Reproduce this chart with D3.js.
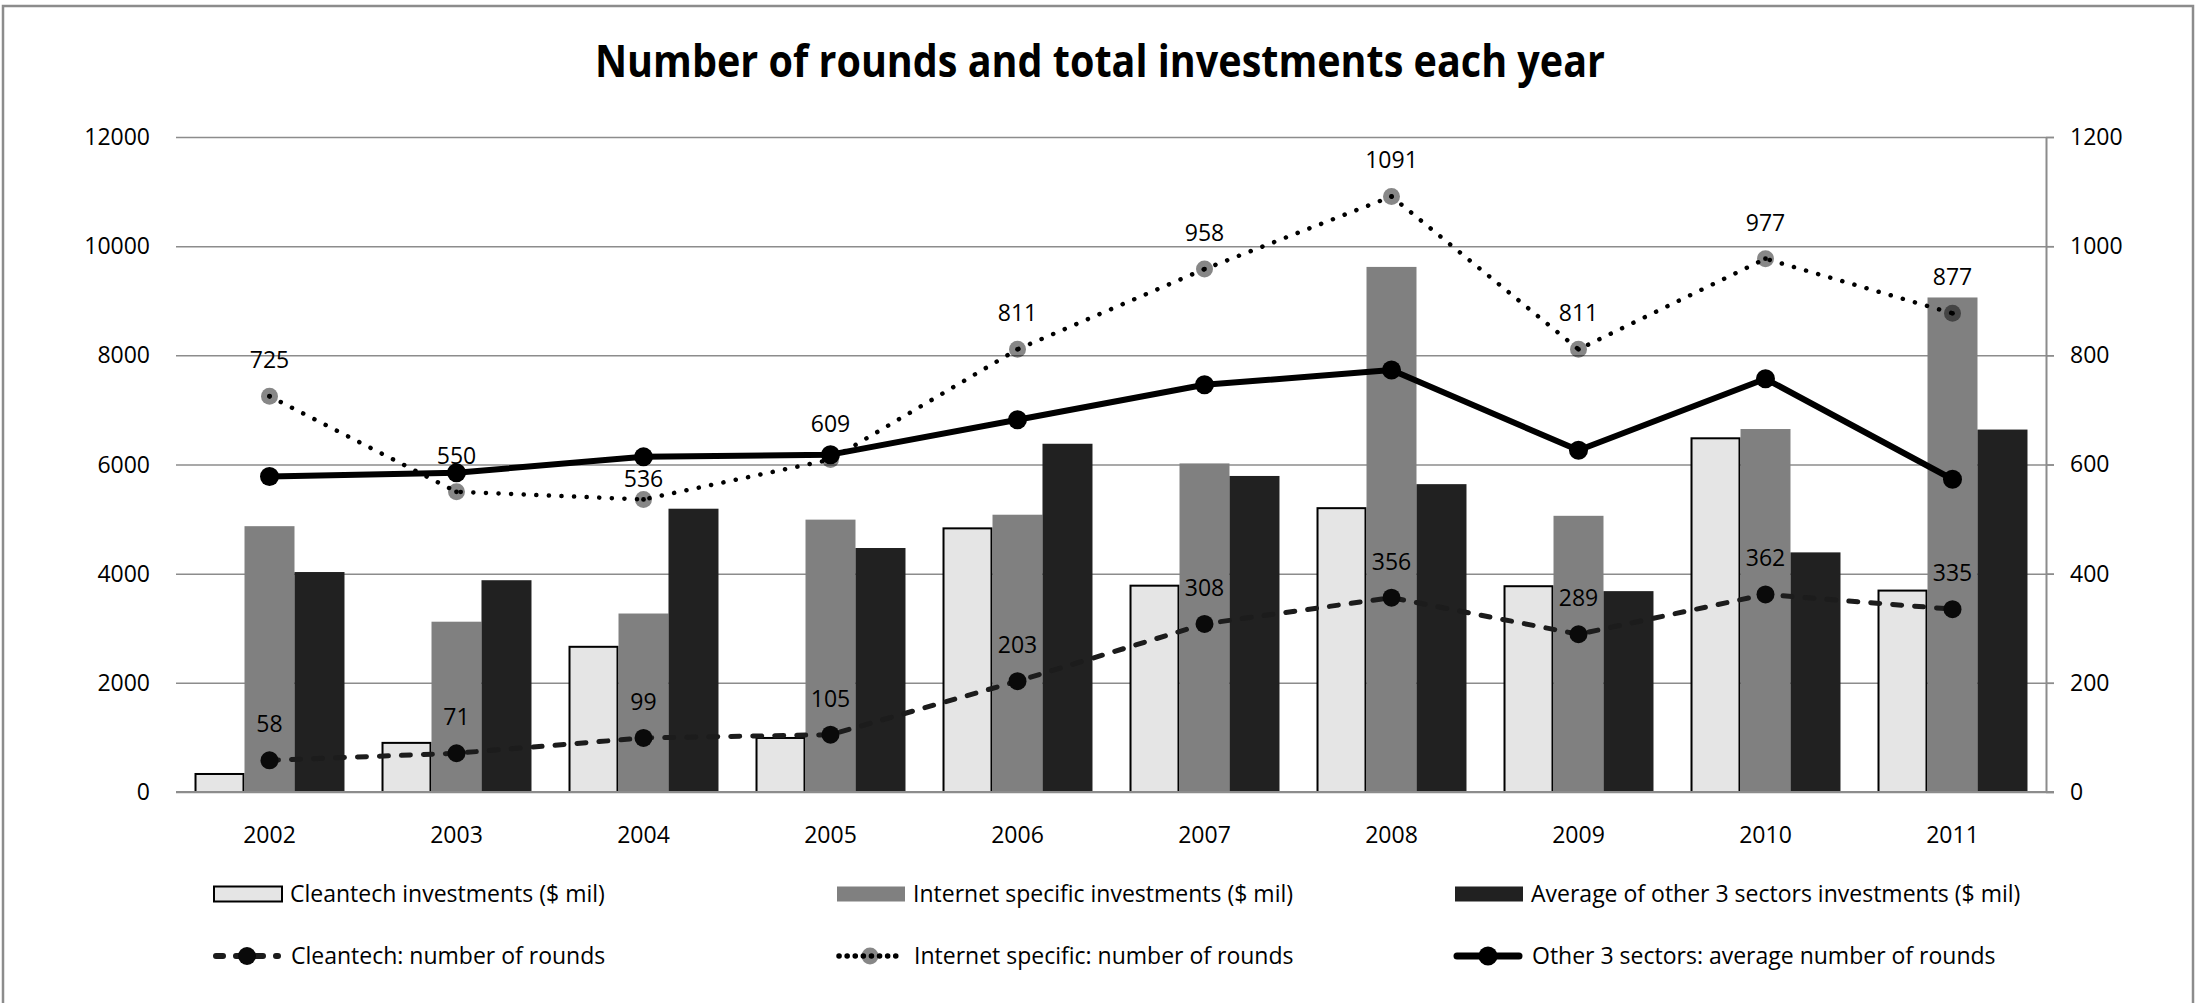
<!DOCTYPE html>
<html>
<head>
<meta charset="utf-8">
<script src="https://cdn.jsdelivr.net/npm/d3@7"></script>
<style>
  body { margin: 0; background: #fff; }
  svg { display: block; font-family: "Open Sans", sans-serif; }
  .grid line { stroke: #8c8c8c; stroke-width: 1.5; }
  .grid path { display: none; }
  .tick-label { font-size: 23px; fill: #000; }
</style>
</head>
<body>
<svg class="chart" width="2196" height="1003"></svg>
<script>
const years = ['2002', '2003', '2004', '2005', '2006', '2007', '2008', '2009', '2010', '2011'];
const leftTicks = [0, 2000, 4000, 6000, 8000, 10000, 12000];
const rightTicks = [0, 200, 400, 600, 800, 1000, 1200];

// investments ($ mil), left axis
const cleantechInv = [330, 900, 2660, 990, 4830, 3780, 5200, 3770, 6480, 3690];
const internetInv = [4870, 3120, 3270, 4990, 5080, 6020, 9620, 5060, 6650, 9060];
const otherInv = [4030, 3880, 5190, 4470, 6380, 5790, 5640, 3680, 4390, 6640];

// number of rounds, right axis
const cleantechRounds = [58, 71, 99, 105, 203, 308, 356, 289, 362, 335];
const internetRounds = [725, 550, 536, 609, 811, 958, 1091, 811, 977, 877];
const otherRounds = [578, 585, 614, 618, 682, 746, 773, 626, 757, 573];

const barSeries = [
    {name: 'Cleantech investments ($ mil)', values: cleantechInv, fill: '#e5e5e5', stroke: '#000'},
    {name: 'Internet specific investments ($ mil)', values: internetInv, fill: '#808080', stroke: 'none'},
    {name: 'Average of other 3 sectors investments ($ mil)', values: otherInv, fill: '#212121', stroke: 'none'}
];
const lineSeries = [
    {name: 'Cleantech: number of rounds', values: cleantechRounds, labels: true,
     color: '#1c1c1c', width: 5, dash: '9,13', legendDash: '7,13', marker: '#0a0a0a', markerOpacity: 1, r: 9},
    {name: 'Internet specific: number of rounds', values: internetRounds, labels: true,
     color: '#000', width: 4.5, dash: '0.1,12.5', legendDash: '0.1,8', marker: '#000', markerOpacity: 0.47, r: 8.5},
    {name: 'Other 3 sectors: average number of rounds', values: otherRounds, labels: false,
     color: '#000', width: 6, dash: null, legendDash: null, marker: '#000', markerOpacity: 1, r: 9.5}
];

const svg = d3.select('svg.chart');
const plotLeft = 176, plotRight = 2046, plotTop = 137, plotBottom = 792;

// outer frame
svg.append('rect')
    .attr('x', 3).attr('y', 6)
    .attr('width', 2190).attr('height', 1020)
    .attr('fill', 'none').attr('stroke', '#8c8c8c').attr('stroke-width', 2.5);

// title
svg.append('text')
    .attr('x', 1100).attr('y', 77)
    .attr('text-anchor', 'middle')
    .attr('font-size', 45).attr('font-weight', 700)
    .attr('textLength', 1010).attr('lengthAdjust', 'spacingAndGlyphs')
    .text('Number of rounds and total investments each year');

const x0 = d3.scaleBand()
    .domain(years)
    .range([plotLeft, plotRight])
    .paddingInner(0.198)
    .paddingOuter(0.099);
const x1 = d3.scaleBand()
    .domain(barSeries.map((s) => s.name))
    .range([0, x0.bandwidth()]);
const yLeft = d3.scaleLinear().domain([0, 12000]).range([plotBottom, plotTop]);
const yRight = d3.scaleLinear().domain([0, 1200]).range([plotBottom, plotTop]);

// horizontal grid lines
svg.append('g')
    .attr('class', 'grid')
    .attr('transform', `translate(${plotLeft}, 0)`)
    .call(d3.axisLeft(yLeft).tickValues(leftTicks).tickSize(-(plotRight - plotLeft + 8)).tickFormat(''));

// left tick labels
svg.append('g').selectAll('text')
    .data(leftTicks)
    .join('text')
    .attr('class', 'tick-label')
    .attr('x', 150)
    .attr('y', (d) => yLeft(d))
    .attr('dy', '0.35em')
    .attr('text-anchor', 'end')
    .text((d) => d);

// right axis
const rAxis = svg.append('g')
    .attr('transform', `translate(${plotRight}, 0)`)
    .call(d3.axisRight(yRight).tickValues(rightTicks).tickFormat(d3.format('d'))
        .tickSize(8).tickPadding(16).tickSizeOuter(0));
rAxis.attr('font-family', null).attr('font-size', null);
rAxis.select('.domain').attr('stroke', '#8c8c8c').attr('stroke-width', 2);
rAxis.selectAll('.tick line').attr('stroke', '#8c8c8c').attr('stroke-width', 1.5);
rAxis.selectAll('.tick text').attr('class', 'tick-label');

// category axis labels
svg.append('g').selectAll('text')
    .data(years)
    .join('text')
    .attr('class', 'tick-label')
    .attr('x', (d) => x0(d) + x0.bandwidth() / 2)
    .attr('y', 843)
    .attr('text-anchor', 'middle')
    .text((d) => d);

// bars
const groups = svg.append('g').selectAll('g')
    .data(years)
    .join('g')
    .attr('transform', (d) => `translate(${x0(d)}, 0)`);

groups.selectAll('rect')
    .data((d, i) => barSeries.map((s) => ({s: s, value: s.values[i]})))
    .join('rect')
    .attr('x', (d) => x1(d.s.name) + (d.s.stroke === 'none' ? 0 : 1))
    .attr('y', (d) => yLeft(d.value))
    .attr('width', (d) => x1.bandwidth() - (d.s.stroke === 'none' ? 0 : 2))
    .attr('height', (d) => plotBottom - yLeft(d.value))
    .attr('fill', (d) => d.s.fill)
    .attr('stroke', (d) => d.s.stroke)
    .attr('stroke-width', 2);

// baseline redrawn over bars
svg.append('line')
    .attr('x1', plotLeft).attr('x2', plotRight + 8)
    .attr('y1', plotBottom).attr('y2', plotBottom)
    .attr('stroke', '#8c8c8c').attr('stroke-width', 2);

// lines with markers
const cx = (i) => x0(years[i]) + x0.bandwidth() / 2;
const line = d3.line()
    .x((d, i) => cx(i))
    .y((d) => yRight(d));

lineSeries.forEach((s) => {
    const g = svg.append('g');
    g.append('path')
        .datum(s.values)
        .attr('d', line)
        .attr('fill', 'none')
        .attr('stroke', s.color)
        .attr('stroke-width', s.width)
        .attr('stroke-linecap', s.dash ? 'round' : 'butt')
        .attr('stroke-linejoin', 'round')
        .attr('stroke-dasharray', s.dash);
    g.selectAll('circle.marker')
        .data(s.values)
        .join('circle')
        .attr('class', 'marker')
        .attr('cx', (d, i) => cx(i))
        .attr('cy', (d) => yRight(d))
        .attr('r', s.r)
        .attr('fill', s.marker)
        .attr('fill-opacity', s.markerOpacity);
    if (s.markerOpacity < 1) {
        // the dotted line shows through the grey markers as a centre dot
        g.selectAll('circle.dot')
            .data(s.values)
            .join('circle')
            .attr('class', 'dot')
            .attr('cx', (d, i) => cx(i))
            .attr('cy', (d) => yRight(d))
            .attr('r', 2.4)
            .attr('fill', '#000');
    }
});

// data labels on top of every line; one label (536) sits lower, tucked under the solid line
const labelLift = (s, i) => (s.name.startsWith('Internet') && i === 2 ? 12 : 28);
lineSeries.filter((s) => s.labels).forEach((s) => {
    svg.append('g').selectAll('text')
        .data(s.values)
        .join('text')
        .attr('class', 'tick-label')
        .attr('x', (d, i) => cx(i))
        .attr('y', (d, i) => yRight(d) - labelLift(s, i))
        .attr('text-anchor', 'middle')
        .text((d) => d);
});

// legend
const legendCols = [214, 837, 1455];
const legendRows = [894, 956];

barSeries.forEach((s, i) => {
    const lx = legendCols[i], ly = legendRows[0];
    svg.append('rect')
        .attr('x', lx).attr('y', ly - 7.5)
        .attr('width', 68).attr('height', 15)
        .attr('fill', s.fill)
        .attr('stroke', s.stroke)
        .attr('stroke-width', 2);
    svg.append('text')
        .attr('class', 'tick-label')
        .attr('x', lx + 76).attr('y', ly + 8)
        .text(s.name);
});

lineSeries.forEach((s, i) => {
    const lx = legendCols[i], ly = legendRows[1];
    svg.append('line')
        .attr('x1', lx + 2).attr('x2', lx + 64)
        .attr('y1', ly).attr('y2', ly)
        .attr('stroke', s.color)
        .attr('stroke-width', s.width + 1)
        .attr('stroke-linecap', 'round')
        .attr('stroke-dasharray', s.legendDash);
    svg.append('circle')
        .attr('cx', lx + 33).attr('cy', ly)
        .attr('r', s.r)
        .attr('fill', s.marker)
        .attr('fill-opacity', s.markerOpacity);
    svg.append('text')
        .attr('class', 'tick-label')
        .attr('x', lx + 77).attr('y', ly + 8)
        .text(s.name);
});
</script>
</body>
</html>
